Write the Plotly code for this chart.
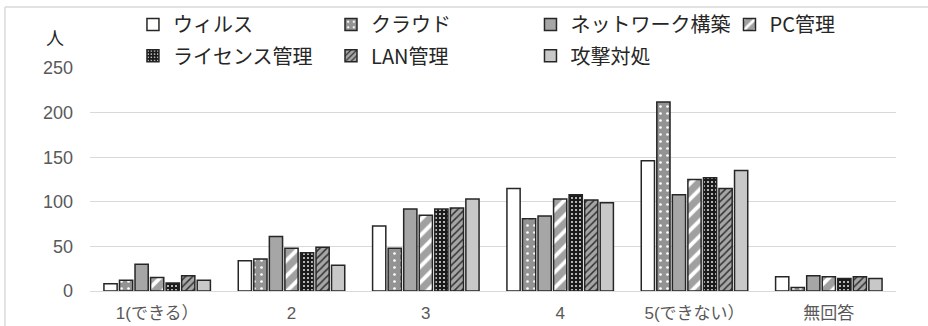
import plotly.graph_objects as go

# Response categories (x axis)
categories = ["1(できる）", "2", "3", "4", "5(できない）", "無回答"]

# Number of respondents per topic
virus    = [8, 34, 73, 115, 146, 16]
cloud    = [12, 36, 48, 81, 212, 4]
network  = [30, 61, 92, 84, 108, 17]
pc_mgmt  = [15, 48, 85, 103, 125, 16]
license_ = [9, 43, 92, 108, 127, 14]
lan_mgmt = [17, 49, 93, 102, 115, 16]
attack   = [12, 29, 103, 99, 135, 14]

y_ticks = [0, 50, 100, 150, 200, 250]

OUTLINE = "#262626"
JP_FONT = "Liberation Sans, Noto Sans CJK JP, sans-serif"

series = [
    ("ウィルス", virus, dict(color="white")),
    ("クラウド", cloud, dict(color="#939393",
                         pattern=dict(shape=".", fgcolor="white", bgcolor="#939393",
                                      size=7, solidity=0.12, fillmode="replace"))),
    ("ネットワーク構築", network, dict(color="#a6a6a6")),
    ("PC管理", pc_mgmt, dict(color="#a0a0a0",
                           pattern=dict(shape="/", fgcolor="white", bgcolor="#a0a0a0",
                                        size=11, solidity=0.35, fillmode="replace"))),
    ("ライセンス管理", license_, dict(color="#1a1a1a",
                                 pattern=dict(shape=".", fgcolor="#e8e8e8", bgcolor="#1a1a1a",
                                              size=4, solidity=0.2, fillmode="replace"))),
    ("LAN管理", lan_mgmt, dict(color="#a6a6a6",
                             pattern=dict(shape="/", fgcolor="#333333", bgcolor="#a6a6a6",
                                          size=5, solidity=0.3, fillmode="replace"))),
    ("攻撃対処", attack, dict(color="#c8c8c8")),
]

# legend grid: 4 columns x 2 rows placed above the plot area
legend_cols = [0.0533, 0.2990, 0.5465, 0.7934]
legend_rows = [1.195, 1.055]

fig = go.Figure()
legend_layout = {}
for i, (name, values, marker) in enumerate(series):
    marker = dict(marker)
    marker["line"] = dict(color=OUTLINE, width=1.5)
    leg_id = "legend" if i == 0 else f"legend{i + 1}"
    fig.add_trace(go.Bar(name=name, x=categories, y=values, marker=marker, legend=leg_id))
    legend_layout[leg_id] = dict(
        orientation="h",
        xanchor="left",
        yanchor="middle",
        x=legend_cols[i % 4],
        y=legend_rows[i // 4],
        bgcolor="rgba(0,0,0,0)",
        font=dict(family="Noto Sans CJK JP, sans-serif", size=20, color="#262626"),
        itemclick=False,
        itemdoubleclick=False,
    )

fig.update_layout(
    width=928,
    height=326,
    margin=dict(l=90, r=32, t=68, b=35, autoexpand=False),
    paper_bgcolor="white",
    plot_bgcolor="white",
    barmode="group",
    bargap=0.19,
    bargroupgap=0.15,
    showlegend=True,
    font=dict(family=JP_FONT),
    xaxis=dict(
        showgrid=False,
        showline=False,
        ticks="",
        tickfont=dict(family=JP_FONT, size=17, color="#595959"),
        ticklabelstandoff=10,
    ),
    yaxis=dict(
        range=[0, 250],
        tickvals=y_ticks,
        showgrid=True,
        gridcolor="#d9d9d9",
        gridwidth=1.2,
        zeroline=True,
        zerolinecolor="#d9d9d9",
        zerolinewidth=1.2,
        showline=False,
        ticks="",
        tickfont=dict(family="Liberation Sans, sans-serif", size=18, color="#595959"),
        ticklabelstandoff=16,
    ),
    shapes=[
        # chart frame: top and left edges
        dict(type="line", xref="paper", yref="paper", x0=-0.1055, x1=1.05,
             y0=1.2735, y1=1.2735, line=dict(color="#d9d9d9", width=1.5)),
        dict(type="line", xref="paper", yref="paper", x0=-0.1055, x1=-0.1055,
             y0=-0.3, y1=1.2735, line=dict(color="#d9d9d9", width=1.5)),
    ],
    annotations=[
        dict(text="人", xref="paper", yref="paper", x=-0.0434, y=1.14,
             showarrow=False, xanchor="center", yanchor="middle",
             font=dict(family="Noto Sans CJK JP, sans-serif", size=18, color="#262626")),
    ],
    **legend_layout,
)

fig.write_html("out.html")
